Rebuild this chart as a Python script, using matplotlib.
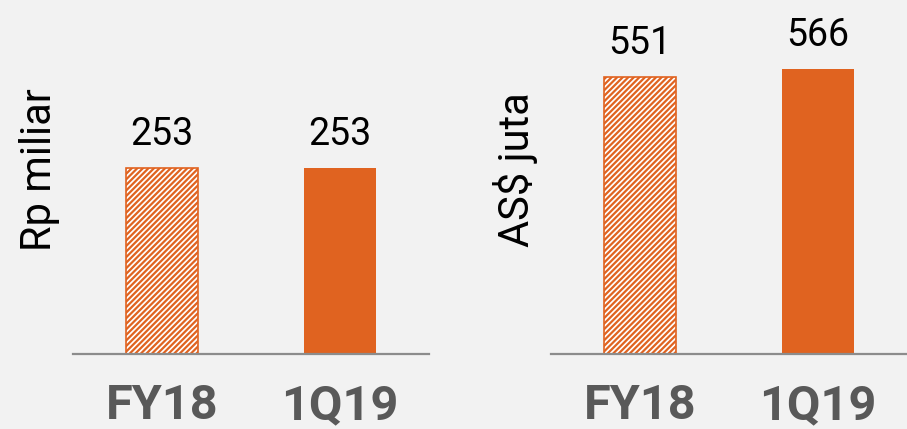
import matplotlib.pyplot as plt

# data
categories = ["FY18", "1Q19"]
rp_miliar = [253, 253]
as_juta = [551, 566]

orange = "#E06320"
bg = "#F2F2F2"

plt.rcParams['hatch.linewidth'] = 1.6
plt.rcParams['hatch.color'] = orange

fig = plt.figure(figsize=(9.07, 4.29), dpi=100)
fig.patch.set_facecolor(bg)

W, H = 907, 429
base = 354
top = 20


def panel(left_px, values, ymax, ylabel, label_x):
    ax = fig.add_axes([left_px / W, (H - base) / H, 356 / W, (base - top) / H])
    ax.set_facecolor(bg)
    x = range(len(categories))
    bars = ax.bar(x, values, width=0.41, color=[orange, orange])
    bars[0].set_facecolor("white")
    bars[0].set_edgecolor(orange)
    bars[0].set_linewidth(1.2)
    bars[0].set_hatch("//////")
    for xi, v in zip(x, values):
        ax.annotate(str(v), (xi, v), xytext=(0, 11), textcoords="offset points",
                    ha="center", va="bottom", fontsize=27,
                    family="Roboto", color="black")
    ax.set_xlim(-0.5, 1.5)
    ax.set_ylim(0, ymax)
    ax.set_xticks(list(x))
    ax.set_xticklabels(categories, fontsize=35, fontweight="bold",
                       family="Roboto", color="#595959")
    ax.tick_params(axis="x", length=0, pad=21)
    ax.set_yticks([])
    for s in ["top", "right", "left"]:
        ax.spines[s].set_visible(False)
    ax.spines["bottom"].set_color("#8C8C8C")
    ax.spines["bottom"].set_linewidth(1.6)
    fig.text(label_x / W, 1 - 170 / H, ylabel, rotation=90, ha="center",
             va="center", fontsize=30, family="Roboto", color="black")
    return ax


panel(73, rp_miliar, 253 * (base - top) / 186, "Rp miliar", 40)
panel(551, as_juta, 551 * (base - top) / 277, "AS$ juta", 516)

fig.savefig("out.png", dpi=100, facecolor=bg)
